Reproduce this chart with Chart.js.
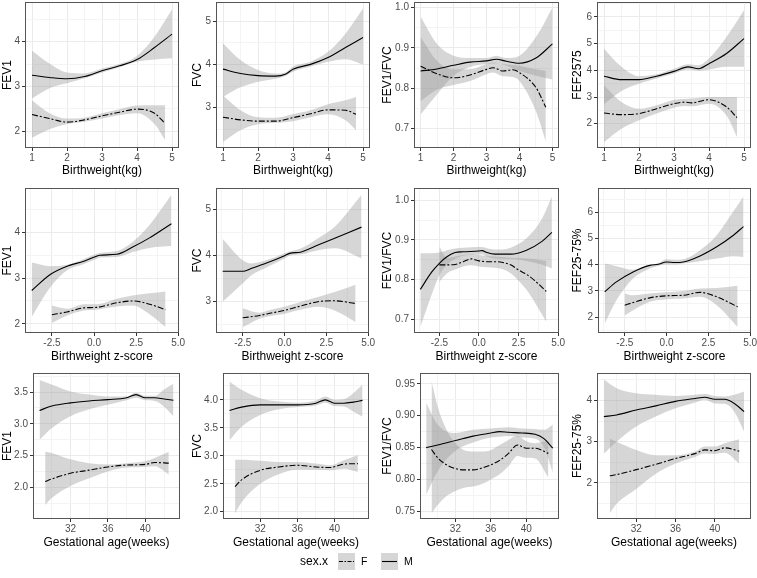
<!DOCTYPE html>
<html>
<head>
<meta charset="utf-8">
<script src="https://cdn.jsdelivr.net/npm/chart.js@4.4.1/dist/chart.umd.min.js"></script>
<style>
  body { margin: 0; background: #fff; width: 757px; height: 578px; position: relative; overflow: hidden; }
  canvas { position: absolute; }
</style>
</head>
<body>
<script>
// Lung function vs birthweight / z-score / gestational age, smoothed by sex
// F = dash-dot line, M = solid line, grey bands = confidence interval

// ---- x axis ticks ----
const bwTicks = [1, 2, 3, 4, 5];
const bwTickLabels = ['1', '2', '3', '4', '5'];
const bwMinor = [1.5, 2.5, 3.5, 4.5];
const bzTicks = [-2.5, 0, 2.5, 5];
const bzTickLabels = ['-2.5', '0.0', '2.5', '5.0'];
const bzMinor = [-3.75, -1.25, 1.25, 3.75];
const gaTicks = [32, 36, 40];
const gaTickLabels = ['32', '36', '40'];
const gaMinor = [30, 34, 38, 42];

// ---- y axis ticks ----
const fev1Ticks = [2, 3, 4];
const fev1Labels = ['2', '3', '4'];
const fev1Minor = [2.5, 3.5, 4.5];
const fvcTicks = [3, 4, 5];
const fvcLabels = ['3', '4', '5'];
const fvcMinor = [2.5, 3.5, 4.5];
const ratioTicks = [0.7, 0.8, 0.9, 1.0];
const ratioLabels = ['0.7', '0.8', '0.9', '1.0'];
const ratioMinor = [0.75, 0.85, 0.95];
const fefTicks = [2, 3, 4, 5, 6];
const fefLabels = ['2', '3', '4', '5', '6'];
const fefMinor = [1.5, 2.5, 3.5, 4.5, 5.5, 6.5];
const gaFev1Ticks = [2.0, 2.5, 3.0, 3.5];
const gaFev1Labels = ['2.0', '2.5', '3.0', '3.5'];
const gaFev1Minor = [1.75, 2.25, 2.75, 3.25, 3.75];
const gaFvcTicks = [2.0, 2.5, 3.0, 3.5, 4.0];
const gaFvcLabels = ['2.0', '2.5', '3.0', '3.5', '4.0'];
const gaFvcMinor = [2.25, 2.75, 3.25, 3.75, 4.25];
const gaRatioTicks = [0.75, 0.80, 0.85, 0.90, 0.95];
const gaRatioLabels = ['0.75', '0.80', '0.85', '0.90', '0.95'];
const gaRatioMinor = [0.775, 0.825, 0.875, 0.925];
const gaFefTicks = [2, 3, 4];
const gaFefLabels = ['2', '3', '4'];
const gaFefMinor = [1.5, 2.5, 3.5, 4.5];

// ---- panel 1: FEV1 vs birthweight ----
const p1xM = [1, 1.5, 2, 2.5, 3, 3.5, 4, 4.5, 5];
const p1M = [3.25, 3.20, 3.17, 3.22, 3.35, 3.46, 3.60, 3.87, 4.17];
const p1Mhi = [3.80, 3.51, 3.31, 3.29, 3.40, 3.50, 3.68, 4.11, 4.72];
const p1Mlo = [2.73, 2.96, 3.07, 3.18, 3.31, 3.43, 3.55, 3.60, 3.63];
const p1xF = [1, 1.5, 2, 2.5, 3, 3.5, 4, 4.5, 4.8];
const p1F = [2.37, 2.28, 2.20, 2.25, 2.34, 2.42, 2.49, 2.40, 2.17];
const p1Fhi = [2.69, 2.40, 2.28, 2.30, 2.40, 2.49, 2.57, 2.58, 2.58];
const p1Flo = [1.85, 2.04, 2.16, 2.21, 2.28, 2.36, 2.40, 2.16, 1.80];

// ---- panel 2: FVC vs birthweight ----
const p2xM = [1, 1.5, 2, 2.5, 2.8, 3, 3.5, 4, 4.5, 5];
const p2M = [3.89, 3.79, 3.74, 3.73, 3.78, 3.89, 4.00, 4.16, 4.39, 4.62];
const p2Mhi = [4.49, 4.10, 3.87, 3.79, 3.82, 3.95, 4.06, 4.29, 4.71, 5.29];
const p2Mlo = [3.25, 3.47, 3.60, 3.67, 3.74, 3.83, 3.95, 4.06, 4.12, 4.00];
const p2xF = [1, 1.5, 2, 2.5, 3, 3.5, 4, 4.5, 4.8];
const p2F = [2.78, 2.72, 2.69, 2.69, 2.77, 2.86, 2.95, 2.94, 2.85];
const p2Fhi = [3.28, 2.94, 2.78, 2.77, 2.85, 2.94, 3.08, 3.17, 3.25];
const p2Flo = [2.21, 2.48, 2.62, 2.65, 2.69, 2.78, 2.85, 2.71, 2.48];

// ---- panel 3: FEV1/FVC vs birthweight ----
const p3xM = [1, 1.5, 2, 2.5, 3, 3.3, 3.6, 4, 4.5, 5];
const p3M = [0.843, 0.848, 0.857, 0.865, 0.868, 0.872, 0.867, 0.862, 0.875, 0.910];
const p3Mhi = [0.978, 0.910, 0.881, 0.875, 0.875, 0.881, 0.875, 0.881, 0.927, 1.000];
const p3Mlo = [0.735, 0.785, 0.831, 0.853, 0.860, 0.862, 0.856, 0.843, 0.831, 0.822];
const p3xF = [1, 1.5, 2, 2.5, 3, 3.2, 3.5, 3.8, 4, 4.5, 4.8];
const p3F = [0.855, 0.836, 0.826, 0.833, 0.847, 0.851, 0.843, 0.846, 0.839, 0.802, 0.753];
const p3Fhi = [0.927, 0.868, 0.847, 0.847, 0.860, 0.864, 0.860, 0.858, 0.856, 0.847, 0.843];
const p3Flo = [0.768, 0.797, 0.808, 0.818, 0.835, 0.839, 0.830, 0.828, 0.818, 0.743, 0.668];

// ---- panel 4: FEF2575 vs birthweight ----
const p4xM = [1, 1.5, 2, 2.5, 3, 3.4, 3.7, 4, 4.5, 5];
const p4M = [3.78, 3.65, 3.65, 3.78, 3.96, 4.13, 4.06, 4.25, 4.63, 5.19];
const p4Mhi = [4.81, 4.13, 3.78, 3.85, 4.06, 4.23, 4.19, 4.44, 5.25, 6.25];
const p4Mlo = [2.73, 3.23, 3.50, 3.69, 3.88, 4.03, 3.98, 4.03, 4.13, 4.13];
const p4xF = [1, 1.5, 2, 2.5, 3, 3.3, 3.5, 4, 4.5, 4.8];
const p4F = [2.40, 2.34, 2.38, 2.56, 2.75, 2.81, 2.78, 2.90, 2.63, 2.23];
const p4Fhi = [3.44, 2.81, 2.56, 2.69, 2.90, 2.93, 2.94, 3.00, 3.00, 3.00];
const p4Flo = [1.31, 1.81, 2.13, 2.38, 2.60, 2.66, 2.65, 2.75, 2.31, 1.50];

// ---- panel 5: FEV1 vs birthweight z-score ----
const p5xM = [-3.7, -2.6, -1.6, -0.6, 0.15, 0.35, 1.35, 2.3, 3.3, 4.6];
const p5M = [2.73, 3.08, 3.26, 3.37, 3.48, 3.50, 3.52, 3.68, 3.88, 4.19];
const p5Mhi = [3.34, 3.26, 3.29, 3.42, 3.53, 3.55, 3.59, 3.79, 4.16, 4.82];
const p5Mlo = [2.15, 2.80, 3.17, 3.31, 3.42, 3.45, 3.46, 3.57, 3.66, 3.70];
const p5xF = [-2.5, -1.6, -0.6, 0.15, 1.35, 2.3, 3.3, 4.25];
const p5F = [2.20, 2.26, 2.35, 2.36, 2.46, 2.50, 2.43, 2.31];
const p5Fhi = [2.40, 2.33, 2.43, 2.43, 2.55, 2.62, 2.67, 2.71];
const p5Flo = [2.02, 2.18, 2.29, 2.31, 2.38, 2.40, 2.21, 1.93];

// ---- panel 6: FVC vs birthweight z-score ----
const p6xM = [-3.7, -2.5, -2, -1, 0, 0.3, 1, 2, 3, 4.6];
const p6M = [3.65, 3.65, 3.71, 3.84, 3.99, 4.04, 4.07, 4.22, 4.37, 4.61];
const p6Mhi = [4.35, 3.89, 3.82, 3.90, 4.04, 4.08, 4.15, 4.37, 4.62, 5.31];
const p6Mlo = [2.99, 3.39, 3.56, 3.75, 3.93, 3.99, 4.02, 4.11, 4.15, 3.93];
const p6xF = [-2.5, -1.5, -1, 0, 1, 2, 3, 4.25];
const p6F = [2.64, 2.69, 2.73, 2.80, 2.90, 2.99, 3.01, 2.95];
const p6Fhi = [2.85, 2.75, 2.80, 2.88, 2.99, 3.09, 3.20, 3.36];
const p6Flo = [2.44, 2.62, 2.67, 2.73, 2.82, 2.88, 2.80, 2.55];

// ---- panel 7: FEV1/FVC vs birthweight z-score ----
const p7xM = [-3.7, -3, -2.5, -2, -1.5, -1, 0, 0.2, 0.5, 1, 1.5, 2, 3, 4, 4.6];
const p7M = [0.775, 0.818, 0.841, 0.858, 0.868, 0.870, 0.872, 0.873, 0.868, 0.864, 0.864, 0.864, 0.874, 0.897, 0.919];
const p7Mhi = [0.866, 0.866, 0.868, 0.874, 0.878, 0.880, 0.882, 0.882, 0.879, 0.876, 0.876, 0.880, 0.904, 0.955, 1.010];
const p7Mlo = [0.680, 0.760, 0.811, 0.838, 0.852, 0.860, 0.863, 0.864, 0.858, 0.853, 0.852, 0.852, 0.847, 0.837, 0.828];
const p7xF = [-2.5, -2, -1.5, -1, -0.5, 0, 0.5, 1, 1.5, 2, 2.5, 3, 3.5, 4.25];
const p7F = [0.837, 0.837, 0.838, 0.845, 0.852, 0.847, 0.845, 0.845, 0.843, 0.837, 0.824, 0.813, 0.798, 0.770];
const p7Fhi = [0.883, 0.855, 0.858, 0.862, 0.864, 0.862, 0.860, 0.858, 0.857, 0.855, 0.854, 0.853, 0.852, 0.847];
const p7Flo = [0.795, 0.816, 0.825, 0.833, 0.836, 0.833, 0.831, 0.830, 0.826, 0.816, 0.797, 0.774, 0.744, 0.693];

// ---- panel 8: FEF25-75% vs birthweight z-score ----
const p8xM = [-3.7, -3, -2, -1, -0.5, 0, 0.5, 1, 2, 3, 4, 4.6];
const p8M = [2.96, 3.34, 3.72, 3.97, 4.01, 4.10, 4.08, 4.10, 4.33, 4.68, 5.12, 5.45];
const p8Mhi = [4.04, 3.94, 3.80, 3.99, 4.05, 4.20, 4.18, 4.20, 4.55, 5.12, 6.03, 6.60];
const p8Mlo = [1.74, 2.64, 3.47, 3.85, 3.95, 4.00, 4.00, 4.04, 4.13, 4.23, 4.32, 4.29];
const p8xF = [-2.5, -2, -1, 0, 1, 2, 3, 4.25];
const p8F = [2.45, 2.55, 2.73, 2.81, 2.83, 2.94, 2.77, 2.39];
const p8Fhi = [2.90, 2.83, 2.90, 2.94, 2.99, 3.09, 3.11, 3.19];
const p8Flo = [2.06, 2.26, 2.58, 2.68, 2.71, 2.77, 2.45, 1.62];

// ---- panel 9: FEV1 vs gestational age ----
const p9xM = [28.7, 30, 32, 34, 36, 38, 39, 40, 41, 42, 43];
const p9M = [3.21, 3.28, 3.33, 3.36, 3.38, 3.41, 3.46, 3.41, 3.41, 3.39, 3.37];
const p9Mhi = [3.69, 3.62, 3.51, 3.46, 3.43, 3.43, 3.49, 3.44, 3.44, 3.54, 3.63];
const p9Mlo = [2.75, 2.93, 3.12, 3.23, 3.30, 3.37, 3.41, 3.37, 3.36, 3.27, 3.12];
const p9xF = [29.3, 30, 32, 34, 36, 38, 40, 41, 42.5];
const p9F = [2.09, 2.13, 2.22, 2.27, 2.32, 2.35, 2.36, 2.39, 2.38];
const p9Fhi = [2.56, 2.54, 2.44, 2.38, 2.36, 2.38, 2.41, 2.46, 2.56];
const p9Flo = [1.72, 1.83, 2.02, 2.14, 2.25, 2.31, 2.32, 2.33, 2.20];

// ---- panel 10: FVC vs gestational age ----
const p10xM = [28.7, 30, 32, 34, 36, 38, 39, 40, 41, 42, 43];
const p10M = [3.81, 3.87, 3.91, 3.91, 3.91, 3.94, 4.00, 3.94, 3.94, 3.96, 3.99];
const p10Mhi = [4.33, 4.18, 4.03, 3.97, 3.95, 3.99, 4.06, 4.00, 4.01, 4.12, 4.27];
const p10Mlo = [3.28, 3.52, 3.73, 3.83, 3.87, 3.90, 3.95, 3.89, 3.88, 3.79, 3.70];
const p10xF = [29.3, 30, 32, 34, 36, 38, 39.5, 41, 42.5];
const p10F = [2.45, 2.57, 2.74, 2.80, 2.83, 2.80, 2.79, 2.85, 2.86];
const p10Fhi = [2.93, 2.93, 2.91, 2.89, 2.89, 2.86, 2.83, 2.92, 3.01];
const p10Flo = [1.97, 2.17, 2.50, 2.67, 2.75, 2.75, 2.74, 2.77, 2.71];

// ---- panel 11: FEV1/FVC vs gestational age ----
const p11xM = [28.7, 30, 32, 34, 36, 37, 38, 39.5, 41, 42, 43];
const p11M = [0.850, 0.854, 0.861, 0.868, 0.873, 0.875, 0.874, 0.873, 0.871, 0.864, 0.849];
const p11Mhi = [0.920, 0.886, 0.873, 0.878, 0.880, 0.881, 0.882, 0.880, 0.879, 0.878, 0.886];
const p11Mlo = [0.776, 0.813, 0.845, 0.858, 0.866, 0.867, 0.868, 0.866, 0.864, 0.851, 0.811];
const p11xF = [29.3, 30, 31, 32, 33, 34, 35, 36, 37, 38, 39, 40, 41, 42.5];
const p11F = [0.847, 0.834, 0.823, 0.817, 0.815, 0.815, 0.818, 0.823, 0.830, 0.841, 0.854, 0.849, 0.849, 0.841];
const p11Fhi = [0.954, 0.914, 0.878, 0.857, 0.846, 0.844, 0.844, 0.846, 0.854, 0.862, 0.868, 0.860, 0.857, 0.861];
const p11Flo = [0.747, 0.760, 0.774, 0.782, 0.787, 0.789, 0.793, 0.800, 0.808, 0.821, 0.837, 0.834, 0.833, 0.803];

// ---- panel 12: FEF25-75% vs gestational age ----
const p12xM = [28.7, 30, 32, 34, 36, 38, 39, 40, 41, 42, 43];
const p12M = [3.61, 3.65, 3.77, 3.87, 3.98, 4.05, 4.08, 4.03, 4.03, 3.93, 3.73];
const p12Mhi = [4.51, 4.30, 4.18, 4.14, 4.11, 4.14, 4.16, 4.11, 4.10, 4.14, 4.22];
const p12Mlo = [2.71, 3.00, 3.37, 3.61, 3.81, 3.95, 4.02, 3.93, 3.92, 3.73, 3.24];
const p12xF = [29.3, 30, 32, 34, 36, 38, 39, 40, 41, 42.5];
const p12F = [2.17, 2.20, 2.32, 2.45, 2.59, 2.71, 2.80, 2.78, 2.85, 2.77];
const p12Fhi = [3.08, 3.00, 2.80, 2.67, 2.67, 2.76, 2.88, 2.88, 2.96, 3.06];
const p12Flo = [1.26, 1.49, 1.85, 2.22, 2.47, 2.63, 2.71, 2.70, 2.73, 2.47];

// axis ranges (ggplot-style 5% expansion)
const bwRange = [0.8, 5.2];
const bzRange = [-4.1, 5.05];
const gaRange = [28.0, 43.7];

const rowX = {
    bw: { title: 'Birthweight(kg)', range: bwRange, ticks: bwTicks, labels: bwTickLabels, minor: bwMinor },
    bz: { title: 'Birthweight z-score', range: bzRange, ticks: bzTicks, labels: bzTickLabels, minor: bzMinor },
    ga: { title: 'Gestational age(weeks)', range: gaRange, ticks: gaTicks, labels: gaTickLabels, minor: gaMinor }
};

const panels = [
    { x: 'bw', yTitle: 'FEV1', yr: [1.62, 4.89], yt: fev1Ticks, yl: fev1Labels, ym: fev1Minor, xM: p1xM, M: p1M, Mhi: p1Mhi, Mlo: p1Mlo, xF: p1xF, F: p1F, Fhi: p1Fhi, Flo: p1Flo },
    { x: 'bw', yTitle: 'FVC', yr: [2.07, 5.44], yt: fvcTicks, yl: fvcLabels, ym: fvcMinor, xM: p2xM, M: p2M, Mhi: p2Mhi, Mlo: p2Mlo, xF: p2xF, F: p2F, Fhi: p2Fhi, Flo: p2Flo },
    { x: 'bw', yTitle: 'FEV1/FVC', yr: [0.652, 1.014], yt: ratioTicks, yl: ratioLabels, ym: ratioMinor, xM: p3xM, M: p3M, Mhi: p3Mhi, Mlo: p3Mlo, xF: p3xF, F: p3F, Fhi: p3Fhi, Flo: p3Flo },
    { x: 'bw', yTitle: 'FEF2575', yr: [1.09, 6.56], yt: fefTicks, yl: fefLabels, ym: fefMinor, xM: p4xM, M: p4M, Mhi: p4Mhi, Mlo: p4Mlo, xF: p4xF, F: p4F, Fhi: p4Fhi, Flo: p4Flo },
    { x: 'bz', yTitle: 'FEV1', yr: [1.8, 4.97], yt: fev1Ticks, yl: fev1Labels, ym: fev1Minor, xM: p5xM, M: p5M, Mhi: p5Mhi, Mlo: p5Mlo, xF: p5xF, F: p5F, Fhi: p5Fhi, Flo: p5Flo },
    { x: 'bz', yTitle: 'FVC', yr: [2.31, 5.46], yt: fvcTicks, yl: fvcLabels, ym: fvcMinor, xM: p6xM, M: p6M, Mhi: p6Mhi, Mlo: p6Mlo, xF: p6xF, F: p6F, Fhi: p6Fhi, Flo: p6Flo },
    { x: 'bz', yTitle: 'FEV1/FVC', yr: [0.665, 1.031], yt: ratioTicks, yl: ratioLabels, ym: ratioMinor, xM: p7xM, M: p7M, Mhi: p7Mhi, Mlo: p7Mlo, xF: p7xF, F: p7F, Fhi: p7Fhi, Flo: p7Flo },
    { x: 'bz', yTitle: 'FEF25-75%', yr: [1.39, 6.92], yt: fefTicks, yl: fefLabels, ym: fefMinor, xM: p8xM, M: p8M, Mhi: p8Mhi, Mlo: p8Mlo, xF: p8xF, F: p8F, Fhi: p8Fhi, Flo: p8Flo },
    { x: 'ga', yTitle: 'FEV1', yr: [1.5, 3.8], yt: gaFev1Ticks, yl: gaFev1Labels, ym: gaFev1Minor, xM: p9xM, M: p9M, Mhi: p9Mhi, Mlo: p9Mlo, xF: p9xF, F: p9F, Fhi: p9Fhi, Flo: p9Flo },
    { x: 'ga', yTitle: 'FVC', yr: [1.87, 4.48], yt: gaFvcTicks, yl: gaFvcLabels, ym: gaFvcMinor, xM: p10xM, M: p10M, Mhi: p10Mhi, Mlo: p10Mlo, xF: p10xF, F: p10F, Fhi: p10Fhi, Flo: p10Flo },
    { x: 'ga', yTitle: 'FEV1/FVC', yr: [0.738, 0.967], yt: gaRatioTicks, yl: gaRatioLabels, ym: gaRatioMinor, xM: p11xM, M: p11M, Mhi: p11Mhi, Mlo: p11Mlo, xF: p11xF, F: p11F, Fhi: p11Fhi, Flo: p11Flo },
    { x: 'ga', yTitle: 'FEF25-75%', yr: [1.12, 4.67], yt: gaFefTicks, yl: gaFefLabels, ym: gaFefMinor, xM: p12xM, M: p12M, Mhi: p12Mhi, Mlo: p12Mlo, xF: p12xF, F: p12F, Fhi: p12Fhi, Flo: p12Flo }
];

// page geometry: canvas left, canvas top, canvas bottom, plot left, plot right, plot top, plot bottom
const boxes = [
    [0, 0, 178, 25, 179, 2, 148], [190, 0, 178, 216, 370, 2, 148], [380, 0, 178, 414, 559, 2, 148], [570, 0, 178, 597, 751, 2, 148],
    [0, 180, 364, 25, 179, 188, 333], [190, 180, 364, 216, 369, 188, 333], [380, 180, 364, 414, 559, 188, 333], [570, 180, 364, 598, 751, 188, 333],
    [0, 365, 550, 33, 180, 373, 519], [190, 365, 550, 223, 369, 373, 519], [380, 365, 550, 420, 559, 373, 519], [570, 365, 550, 597, 751, 373, 519]
];

const FONT = '"Liberation Sans", Arial, sans-serif';
const BAND = 'rgba(153, 153, 153, 0.4)';

function pts(xs, ys) {
    return xs.map(function (x, i) { return { x: x, y: ys[i] }; });
}

function isIn(list, v) {
    return list.some(function (t) { return Math.abs(t - v) < 1e-9; });
}

function labelOf(list, labels, v) {
    for (let i = 0; i < list.length; i++) {
        if (Math.abs(list[i] - v) < 1e-9) return labels[i];
    }
    return '';
}

// grey panel border like theme_bw
const panelBox = {
    id: 'panelBox',
    afterDraw: function (chart) {
        const a = chart.chartArea;
        const ctx = chart.ctx;
        ctx.save();
        ctx.strokeStyle = '#555555';
        ctx.lineWidth = 1;
        ctx.strokeRect(Math.round(a.left) + 0.5, Math.round(a.top) + 0.5,
            Math.round(a.right - a.left) - 1, Math.round(a.bottom - a.top) - 1);
        ctx.restore();
    }
};

function axisOptions(range, ticks, labels, minor, title, isX, fixedSize) {
    const all = ticks.concat(minor);
    return {
        type: 'linear',
        min: range[0],
        max: range[1],
        afterBuildTicks: function (axis) {
            axis.ticks = all.slice().sort(function (a, b) { return a - b; })
                .map(function (v) { return { value: v }; });
        },
        afterFit: function (axis) {
            if (isX) {
                axis.height = fixedSize;
                axis.paddingLeft = 0;
                axis.paddingRight = 0;
            } else {
                axis.width = fixedSize;
                axis.paddingTop = 0;
                axis.paddingBottom = 0;
            }
        },
        border: { display: false },
        grid: {
            color: function (c) { return c.tick && isIn(ticks, c.tick.value) ? '#EBEBEB' : '#F4F4F4'; },
            tickColor: function (c) { return c.tick && isIn(ticks, c.tick.value) ? '#333333' : 'rgba(0,0,0,0)'; },
            lineWidth: 1,
            tickLength: 3,
            drawTicks: true
        },
        ticks: {
            autoSkip: false,
            maxRotation: 0,
            minRotation: 0,
            padding: isX ? 1 : 2,
            color: '#4D4D4D',
            font: { family: FONT, size: 10 },
            callback: function (v) { return labelOf(ticks, labels, v); }
        },
        title: {
            display: true,
            text: title,
            color: '#000000',
            font: { family: FONT, size: 12 },
            padding: { top: 0, bottom: 0 }
        }
    };
}

panels.forEach(function (p, i) {
    const b = boxes[i];
    const cl = b[0], ct = b[1], cb = b[2], L = b[3], R = b[4], T = b[5], B = b[6];
    const cr = Math.min(R + 10, 757);
    const xr = rowX[p.x];

    const canvas = document.createElement('canvas');
    canvas.width = cr - cl;
    canvas.height = cb - ct;
    canvas.style.left = cl + 'px';
    canvas.style.top = ct + 'px';
    document.body.appendChild(canvas);

    const line = { pointRadius: 0, borderWidth: 1.1, borderColor: '#000000', fill: false, cubicInterpolationMode: 'monotone' };
    const edge = { pointRadius: 0, borderWidth: 0, borderColor: 'rgba(0,0,0,0)', cubicInterpolationMode: 'monotone' };

    new Chart(canvas.getContext('2d'), {
        type: 'line',
        data: {
            datasets: [
                Object.assign({ label: 'M', data: pts(p.xM, p.M) }, line),
                Object.assign({ label: 'F', data: pts(p.xF, p.F), borderDash: [6, 2, 2, 2] }, line),
                Object.assign({ label: 'M hi', data: pts(p.xM, p.Mhi), fill: '+1', backgroundColor: BAND }, edge),
                Object.assign({ label: 'M lo', data: pts(p.xM, p.Mlo), fill: false }, edge),
                Object.assign({ label: 'F hi', data: pts(p.xF, p.Fhi), fill: '+1', backgroundColor: BAND }, edge),
                Object.assign({ label: 'F lo', data: pts(p.xF, p.Flo), fill: false }, edge)
            ]
        },
        options: {
            responsive: false,
            animation: false,
            events: [],
            layout: { padding: { left: 0, top: T - ct, right: cr - R, bottom: 0 } },
            scales: {
                x: axisOptions(xr.range, xr.ticks, xr.labels, xr.minor, xr.title, true, cb - B),
                y: axisOptions(p.yr, p.yt, p.yl, p.ym, p.yTitle, false, L - cl)
            },
            plugins: {
                legend: { display: false },
                tooltip: { enabled: false }
            }
        },
        plugins: [panelBox]
    });
});

// legend at the bottom: sex.x  F (dash-dot)  M (solid)
(function () {
    const lg = document.createElement('canvas');
    lg.width = 150;
    lg.height = 28;
    lg.style.left = '292px';
    lg.style.top = '548px';
    document.body.appendChild(lg);
    const ctx = lg.getContext('2d');
    ctx.textBaseline = 'middle';
    ctx.fillStyle = '#000000';
    ctx.font = '12px ' + FONT;
    ctx.fillText('sex.x', 8, 14);

    function key(x, dash, label) {
        ctx.fillStyle = BAND;
        ctx.fillRect(x, 5, 17, 17);
        ctx.strokeStyle = '#000000';
        ctx.lineWidth = 1.1;
        ctx.setLineDash(dash);
        ctx.beginPath();
        ctx.moveTo(x + 1, 13.5);
        ctx.lineTo(x + 16, 13.5);
        ctx.stroke();
        ctx.setLineDash([]);
        ctx.fillStyle = '#000000';
        ctx.font = '10.5px ' + FONT;
        ctx.fillText(label, x + 23, 14);
    }
    key(46, [4, 1.5, 1.5, 1.5], 'F');
    key(89, [], 'M');
})();
</script>
</body>
</html>
